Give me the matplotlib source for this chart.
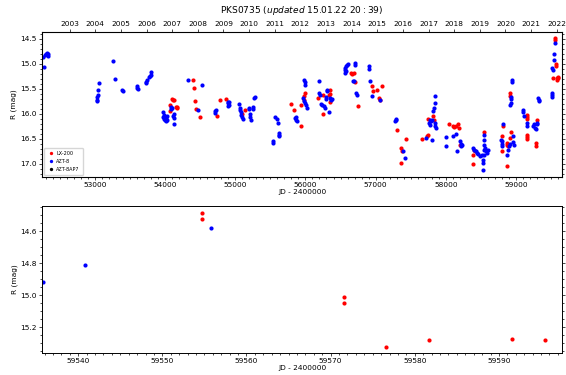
#! /usr/bin/env python3
import pandas as pd
import matplotlib.pyplot as plt
from matplotlib.ticker import MultipleLocator

# LX-200 photometry (JD - 2400000, R mag)
lx_jd = [54071, 54071, 54105, 54129, 54152, 54176, 54166, 54114,
         54405, 54419, 54429, 54443, 54505, 54738, 54786, 54867,
         55095, 55138, 55795, 55843, 55938, 55938, 55985, 55995, 55976,
         56185, 56247, 56247, 56333, 56343, 56357, 56352,
         56652, 56667, 56685, 56700, 56747, 56952, 56962, 57019, 57043, 57057, 57095,
         57305, 57366, 57376, 57366, 57428, 57666, 57738, 57747, 57747, 57819, 57828,
         58047, 58095, 58114, 58138, 58176, 58190, 58200,
         58381, 58390, 58400, 58414, 58543,
         58804, 58795, 58809, 58866, 58876, 58890, 58876, 58914, 58924, 58914, 58914,
         59152, 59157, 59162, 59152, 59157, 59162, 59304, 59285, 59285, 59524,
         59554.7, 59554.7, 59571.6, 59571.6, 59576.6, 59581.7, 59591.6, 59595.5]
lx_mag = [15.94, 15.82, 15.70, 15.73, 15.87, 15.87, 15.89, 15.72,
          15.33, 15.48, 15.74, 15.91, 16.07, 16.05, 15.73, 15.71,
          16.01, 15.92, 15.80, 15.92, 16.25, 15.82, 15.65, 15.59, 15.72,
          15.69, 15.62, 16.01, 15.62, 15.52, 15.77, 15.60,
          15.19, 15.20, 15.19, 15.37, 15.85, 15.44, 15.55, 15.52, 15.69, 15.73, 15.44,
          16.32, 16.69, 16.74, 16.99, 16.51, 16.51, 16.44, 16.42, 16.11, 16.05, 16.13,
          16.21, 16.24, 16.27, 16.25, 16.20, 16.29, 16.62,
          17.00, 16.82, 16.73, 16.75, 16.37,
          16.75, 16.45, 16.24, 16.59, 16.62, 16.65, 17.05, 16.49, 16.37, 15.64, 15.59,
          16.10, 16.06, 16.02, 16.42, 16.47, 16.50, 16.13, 16.59, 16.64, 15.29,
          14.49, 14.525, 15.01, 15.05, 15.32, 15.28, 15.27, 15.28]

# AZT-8 photometry
azt_jd = [52266, 52285, 52305, 52315, 52330, 52330, 52275,
          53033, 53033, 53033, 53043, 53048, 53057, 53257, 53286, 53390, 53400,
          53605, 53605, 53610, 53724, 53733, 53748, 53771, 53786, 53795, 53805,
          53971, 53971, 53986, 54000, 54010, 54024, 54033, 53986, 54019,
          54081, 54090, 54105, 54129, 54129, 54119, 54129,
          54333, 54467, 54529, 54714, 54724, 54714,
          54895, 54900, 54905, 54914, 54895,
          55057, 55067, 55076, 55086, 55095, 55114, 55071,
          55190, 55200, 55210, 55214, 55224, 55248, 55257, 55271, 55276,
          55867, 55867, 55876, 55857, 55571, 55590, 55605, 55533, 55533,
          55619, 55624, 55629,
          55985, 55990, 55995, 55971, 55985, 56000, 56010, 56019,
          56190, 56200, 56209, 56224, 56238, 56271, 56281, 56286, 56295, 56305,
          56309, 56333, 56352, 56366, 56376,
          56557, 56566, 56571, 56581, 56595, 56604, 56566, 56676, 56690, 56700,
          56700, 56724, 56733, 56900, 56905, 56914, 56952, 57066,
          57271, 57285, 57295, 57390, 57414,
          57724, 57762, 57771, 57781, 57795, 57809, 57804, 57819, 57828, 57843,
          57847, 57843, 57852, 57857,
          58009, 58009, 58095, 58143, 58166, 58200, 58209, 58219, 58228,
          58390, 58400, 58428, 58438, 58462, 58486, 58509, 58524, 58533, 58543,
          58543, 58543, 58543, 58543, 58533, 58557, 58571, 58590, 58604,
          58795, 58795, 58804, 58785, 58809, 58876, 58890, 58904, 58914,
          58962, 58962, 58971, 58924, 58933, 58924, 58914, 58947, 58947,
          59095, 59104, 59119, 59152, 59162, 59247, 59261, 59271, 59295, 59304,
          59290, 59319, 59324, 59328,
          59509, 59514, 59519, 59519, 59524,
          59535.8, 59540.8, 59555.75]
azt_mag = [14.87, 14.82, 14.81, 14.79, 14.81, 14.85, 15.07,
           15.72, 15.67, 15.75, 15.62, 15.53, 15.39, 14.94, 15.31, 15.52, 15.55,
           15.45, 15.49, 15.51, 15.39, 15.37, 15.32, 15.27, 15.24, 15.22, 15.17,
           15.97, 16.07, 16.02, 16.12, 16.09, 16.05, 16.12, 16.11, 16.15,
           15.91, 15.87, 15.89, 16.01, 16.09, 16.05, 16.21,
           15.33, 15.93, 15.43, 15.95, 15.92, 15.99,
           15.76, 15.79, 15.82, 15.77, 15.84,
           15.81, 15.89, 15.97, 16.02, 16.07, 16.11, 15.92,
           15.89, 15.91, 16.01, 16.07, 16.12, 15.87, 15.91, 15.69, 15.67,
           16.07, 16.12, 16.15, 16.09, 16.07, 16.11, 16.19, 16.55, 16.59,
           16.39, 16.42, 16.44,
           15.32, 15.37, 15.42, 15.69, 15.75, 15.79, 15.82, 15.89,
           15.34, 15.59, 15.62, 15.80, 15.82, 15.85, 15.89, 15.67, 15.71, 15.53,
           15.55, 15.97, 15.69, 15.72, 15.71,
           15.09, 15.12, 15.15, 15.05, 15.03, 15.01, 15.19, 15.35, 15.35, 14.99,
           15.02, 15.59, 15.62, 15.05, 15.11, 15.35, 15.64, 15.72,
           16.15, 16.12, 16.11, 16.75, 16.89,
           16.49, 16.19, 16.22, 16.12, 16.15, 16.13, 16.53, 15.95, 15.89, 15.79,
           15.64, 16.19, 16.24, 16.29,
           16.47, 16.65, 16.45, 16.41, 16.75, 16.55, 16.60, 16.65, 16.62,
           16.69, 16.72, 16.75, 16.79, 16.80, 16.85, 16.82, 16.99, 16.92, 16.82,
           16.72, 16.62, 16.52, 16.42, 17.13, 16.69, 16.75, 16.79, 16.73,
           16.55, 16.60, 16.64, 16.52, 16.20, 16.82, 16.72, 16.65, 16.60,
           16.45, 16.57, 16.62, 15.67, 15.71, 15.79, 15.82, 15.32, 15.37,
           15.93, 15.97, 16.04, 16.19, 16.24, 16.24, 16.20, 16.29, 16.20, 16.19,
           16.31, 15.69, 15.73, 15.75,
           15.59, 15.63, 15.67, 15.09, 15.12,
           14.92, 14.81, 14.58]

# AZT-8+AP7 (no points in this range)
ap7_jd = []
ap7_mag = []

years = list(range(2003, 2023))

plt.rcParams['font.size'] = 5.3

fig = plt.figure(figsize=(5.66, 3.75), dpi=100)
ax1 = fig.add_axes([0.0742, 0.528, 0.9188, 0.3867])
ax2 = fig.add_axes([0.0742, 0.0587, 0.9188, 0.392])

for ax in (ax1, ax2):
    ax.plot(lx_jd, lx_mag, 'o', color='red', ms=3, mew=0, label='LX-200')
    ax.plot(azt_jd, azt_mag, 'o', color='blue', ms=3, mew=0, label='AZT-8')
    ax.plot(ap7_jd, ap7_mag, 'o', color='black', ms=3, mew=0, label='AZT-8AP7')
    ax.set_xlabel("JD - 2400000", labelpad=0.5)
    ax.set_ylabel("R (mag)", labelpad=2)
    ax.tick_params(length=2.5, width=0.5, pad=1.2)
    ax.tick_params(which='minor', length=1.5, width=0.5)
    ax.tick_params(axis='y', which='both', right=True)
    for s in ax.spines.values():
        s.set_linewidth(0.7)

ax1.set_xlim(52248, 59655)
ax1.set_ylim(17.26, 14.36)
ax1.xaxis.set_major_locator(MultipleLocator(1000))
ax1.xaxis.set_minor_locator(MultipleLocator(100))
ax1.yaxis.set_major_locator(MultipleLocator(0.5))
ax1.yaxis.set_minor_locator(MultipleLocator(0.1))
ax1.legend(loc='lower left', fontsize=3.5, markerscale=0.8, handletextpad=0.3,
           borderpad=0.6, labelspacing=0.6, handlelength=1.5)

# calendar years along the top
top = ax1.twiny()
top.set_xlim(ax1.get_xlim())
top.set_xticks([pd.Timestamp(f"{y}-01-01").to_julian_date() - 2400000 for y in years])
top.set_xticklabels([str(y) for y in years])
top.tick_params(length=2.5, width=0.5, pad=1)

ax2.set_xlim(59535.7, 59597.5)
ax2.set_ylim(15.36, 14.444)
ax2.xaxis.set_major_locator(MultipleLocator(10))
ax2.xaxis.set_minor_locator(MultipleLocator(1))
ax2.yaxis.set_major_locator(MultipleLocator(0.2))
ax2.yaxis.set_minor_locator(MultipleLocator(0.05))

fig.text(0.5336, 0.972, r"PKS0735 ($\it{updated}$ 15.01.22 $20:39$)",
         ha='center', va='center', fontsize=6.5)

plt.savefig("out.png", dpi=100)
